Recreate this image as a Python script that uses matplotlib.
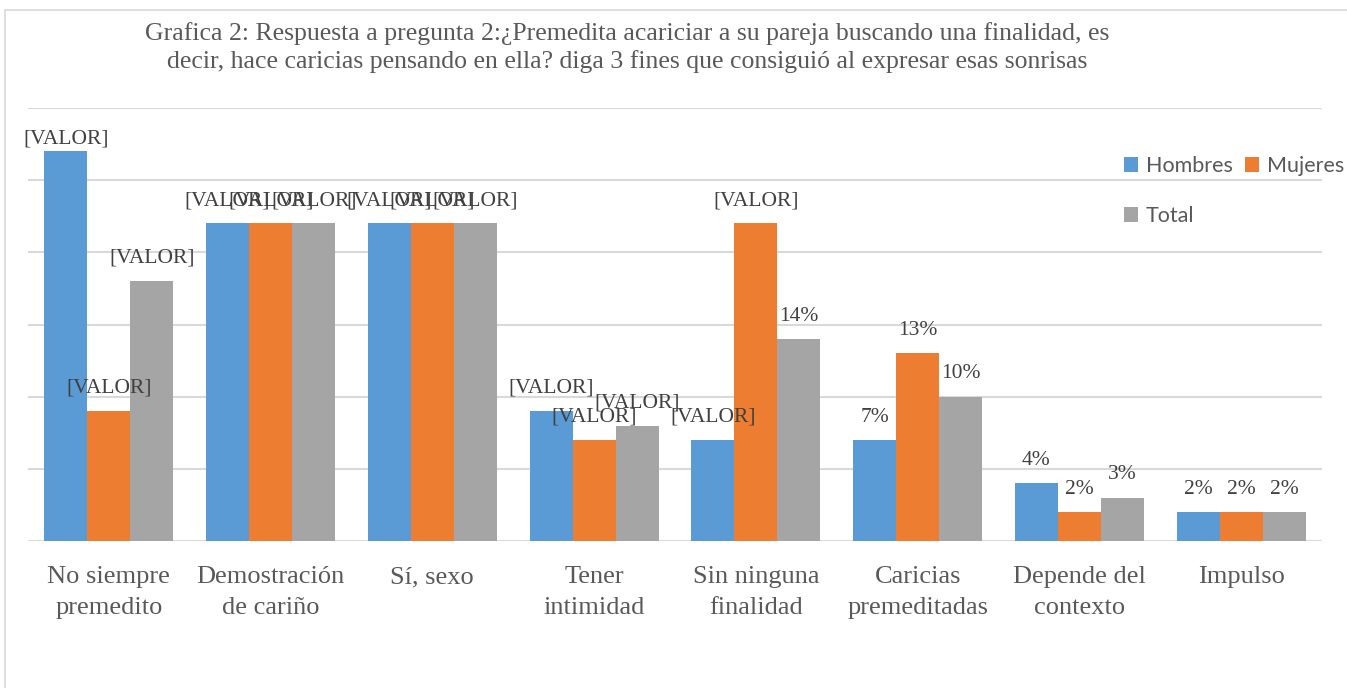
"""
Grafica 2: grouped bars of the answers to question 2, split by sex.

Mimics the Excel look of the original report: serif title and axis text,
Calibri-ish legend, light gray gridlines with no y tick labels.
"""

import matplotlib
matplotlib.use("Agg")
import matplotlib.pyplot as plt
import numpy as np
from matplotlib.patches import Rectangle

# ---------------------------------------------------------------------------
# Data (percent of respondents)
# ---------------------------------------------------------------------------
categories = [
    "No siempre\npremedito",
    "Demostración\nde cariño",
    "Sí, sexo",
    "Tener\nintimidad",
    "Sin ninguna\nfinalidad",
    "Caricias\npremeditadas",
    "Depende del\ncontexto",
    "Impulso",
]
series_names = ["Hombres", "Mujeres", "Total"]
hombres = [27, 22, 22, 9, 7, 7, 4, 2]
mujeres = [9, 22, 22, 7, 22, 13, 2, 2]
total = [18, 22, 22, 8, 14, 10, 3, 2]

# how many leading labels per series kept Excel's unresolved "[VALOR]"
n_placeholder = [5, 5, 4]

title = ("Grafica 2: Respuesta a pregunta 2:¿Premedita acariciar a su pareja "
         "buscando una finalidad, es\ndecir, hace caricias pensando en ella? "
         "diga 3 fines que consiguió al expresar esas sonrisas")

colors = ["#5B9BD5", "#ED7D31", "#A5A5A5"]
TEXT = "#595959"
LABEL = "#404040"
GRID = "#D9D9D9"
SERIF = "Liberation Serif"

# ---------------------------------------------------------------------------
# Figure
# ---------------------------------------------------------------------------
W, H = 1347, 688
fig = plt.figure(figsize=(W / 100, H / 100), dpi=100)
ax = fig.add_axes([28 / W, 1 - 541 / H, (1322 - 28) / W, (541 - 108) / H])

x = np.arange(len(categories))
bar_w = 0.266
values = [hombres, mujeres, total]

for k, (name, vals, col) in enumerate(zip(series_names, values, colors)):
    xs = x + (k - 1) * bar_w
    ax.bar(xs, vals, width=bar_w, color=col, label=name, zorder=3)
    for i, (xi, v) in enumerate(zip(xs, vals)):
        txt = "[VALOR]" if i < n_placeholder[k] else f"{v}%"
        dy = 8.6 if (i == 0 and k == 0) else 16.5   # first label sits lower
        ax.annotate(txt, (xi, v), xytext=(0, dy), textcoords="offset points",
                    ha="center", va="center", fontsize=15.5, color=LABEL,
                    family=SERIF, zorder=4)

ax.set_xlim(-0.5, len(categories) - 0.5)
ax.set_ylim(0, 30)
ax.set_yticks(np.arange(0, 31, 5))
ax.set_yticklabels([])
ax.grid(axis="y", color=GRID, linewidth=1.5, zorder=0)
ax.set_xticks(x)
ax.set_xticklabels(categories, fontsize=19, color=TEXT, family=SERIF,
                   linespacing=1.55)
ax.tick_params(axis="both", length=0)
ax.tick_params(axis="x", pad=18)
for s in ax.spines.values():
    s.set_visible(False)

# legend: Hombres / Mujeres on the first row, Total below
handles, labels = ax.get_legend_handles_labels()
order = [0, 2, 1]
fig.legend([handles[i] for i in order], [labels[i] for i in order],
           ncol=2, loc="upper left",
           bbox_to_anchor=(1124 / W, 1 - 156 / H),
           frameon=False, borderpad=0, borderaxespad=0,
           handlelength=0.65, handleheight=0.65, handletextpad=0.35,
           columnspacing=0.6, labelspacing=1.4,
           prop={"family": "Lato", "size": 15.5}, labelcolor=TEXT)

fig.text(627 / W, 1 - 22 / H, title, ha="center", va="top",
         fontsize=18.5, color=TEXT, family=SERIF, linespacing=1.3)

# chart-area border (cut off at right and bottom in the source)
fig.add_artist(Rectangle((5 / W, -0.1), 1.2, 1.1 - 10 / H,
                         transform=fig.transFigure, fill=False,
                         edgecolor=GRID, linewidth=1.2))

fig.savefig("out.png", dpi=100)
plt.close(fig)
